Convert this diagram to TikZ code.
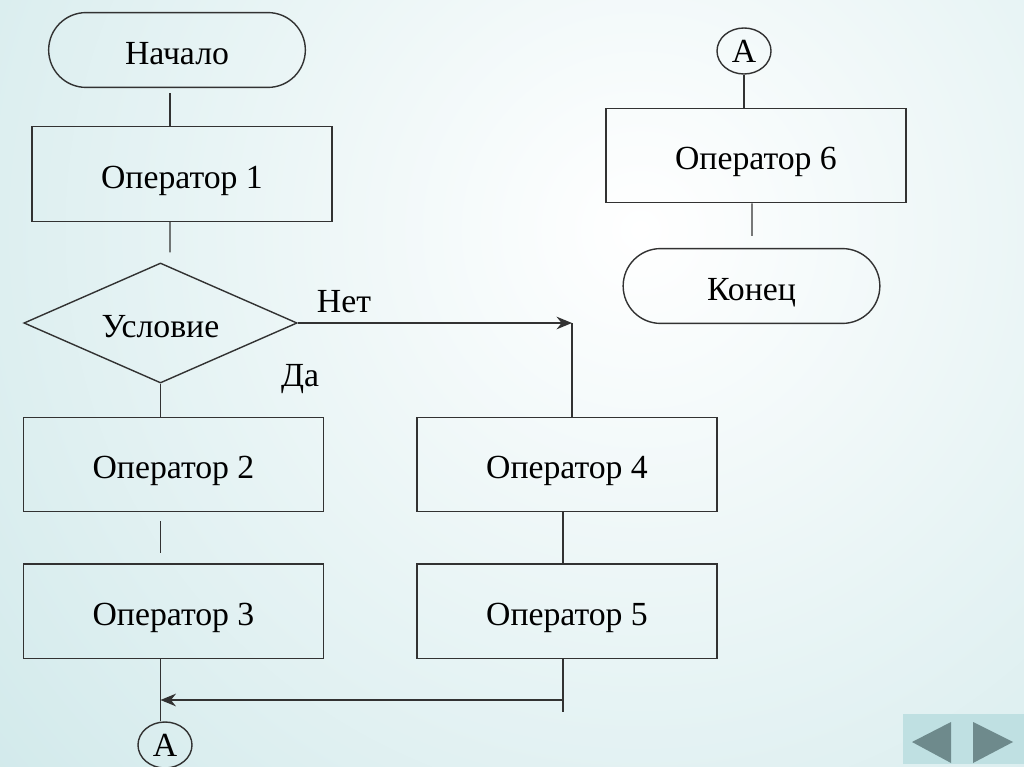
\documentclass[tikz,border=0pt]{standalone}
\usepackage{fontspec}
\setmainfont{Liberation Serif}
\usetikzlibrary{shapes.geometric, shapes.misc, arrows.meta, calc, positioning}
\definecolor{bgteal}{RGB}{194,226,228}
\definecolor{linegray}{RGB}{50,50,50}
\definecolor{navgray}{RGB}{110,138,140}
\definecolor{navpanel}{RGB}{191,224,226}
\tikzstyle{startstop} = [rounded rectangle, draw=linegray, line width=1pt, minimum width=6.65cm, minimum height=1.87cm, text height=20pt, text depth=0pt, text centered]
\tikzstyle{block} = [rectangle, draw=linegray, line width=1pt, minimum width=7.5cm, minimum height=2.36cm, text height=20pt, text depth=0pt, text centered]
\tikzstyle{decision} = [diamond, draw=linegray, line width=1pt, minimum width=6.83cm, minimum height=3cm, aspect=2.3, inner sep=0pt, text height=20pt, text depth=0pt, text centered]
\tikzstyle{connector} = [ellipse, draw=linegray, line width=1pt, minimum width=1.35cm, minimum height=1.15cm, inner sep=0pt]
\tikzstyle{line} = [draw=linegray, line width=1pt]
\tikzstyle{arrow} = [line, ->, >={Stealth[length=11pt, width=9pt]}]

\begin{document}
\begin{tikzpicture}[node distance = 10mm, auto, x=0.025cm, y=-0.025cm, font=\fontsize{24}{28}\selectfont]
		% background
		\useasboundingbox (0,0) rectangle (1024,767);
		\fill[bgteal] (0,0) rectangle (1024,767);
		\begin{scope}
			\clip (0,0) rectangle (1024,767);
			\shade[inner color=white, outer color=bgteal] (640,230) circle (1150);
		\end{scope}
		\fill[navpanel] (903,714) rectangle (1024,764);
		\fill[navgray] (912,742) -- (951,722) -- (951,763) -- cycle;
		\fill[navgray] (973,722) -- (973,763) -- (1013,742) -- cycle;
		% left column
		\node (Start) [startstop] at (177,50) {Начало};
		\node (Op1) [block] at (182,174) {Оператор 1};
		\node (Cond) [decision] at (160.5,323) {Условие};
		\node (Op2) [block] at (173.5,464.5) {Оператор 2};
		\node (Op3) [block, below = 1.275cm of Op2] {Оператор 3};
		\node (ConA) [connector] at (165,745) {А};
		% right column
		\node (Op4) [block, right = 2.3cm of Op2] {Оператор 4};
		\node (Op5) [block, below = 1.275cm of Op4] {Оператор 5};
		\node (ConB) [connector] at (744,51) {А};
		\node (Op6) [block] at (756,155.5) {Оператор 6};
		\node (End) [startstop] at (751.5,286) {Конец};
		\node (No) at (344,302) {Нет};
		\node (Yes) at (300,379) {Да};
		\coordinate (NoTurn) at (572,323);
		\coordinate (Back) at (563,700);
		\draw [line] ($(Start.south)+(-7,5)$) -- ($(Op1.north)+(-12,0)$);
		\draw [line] ($(Op1.south)+(-12,0)$) -- ($(Cond.north)+(9.5,-10)$);
		\draw [line] (Cond.south) -- (Cond.south |- Op2.north);
		\draw [line] ($(Op2.south -| Cond.south)+(0,9)$) -- ($(Op3.north -| Cond.south)+(0,-10)$);
		\draw [line] (Op3.south -| Cond.south) -- (Cond.south |- ConA.north);
		\draw [arrow] (Cond.east) -- (NoTurn);
		\draw [line] (NoTurn) -- (NoTurn |- Op4.north);
		\draw [line] (Op4.south -| Back) -- (Op5.north -| Back);
		\draw [line] (Op5.south -| Back) -- ++(0,53);
		\draw [arrow] (Back) -- (Back -| Cond.south);
		\draw [line] (ConB.south) -- (ConB.south |- Op6.north);
		\draw [line] ($(Op6.south)+(-4,0)$) -- ($(End.north)+(0.5,-12)$);
	\end{tikzpicture}
\end{document}
